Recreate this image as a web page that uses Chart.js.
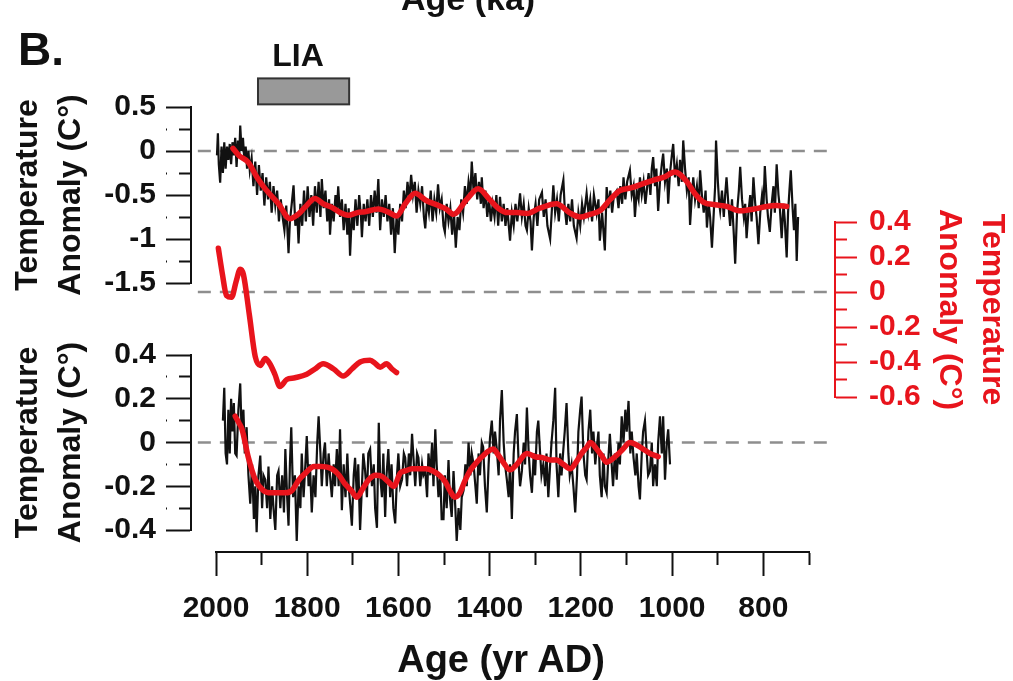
<!DOCTYPE html>
<html>
<head>
<meta charset="utf-8">
<title>Temperature anomaly</title>
<script src="https://cdn.jsdelivr.net/npm/chart.js@4.4.1/dist/chart.umd.min.js"></script>
<style>
  html, body { margin: 0; padding: 0; background: #fff; }
  #wrap { position: relative; width: 1013px; height: 681px; overflow: hidden;
          font-family: 'Liberation Sans', Arial, sans-serif; font-weight: bold; }
  #wrap canvas { position: absolute; left: 0; top: 0; }
  .lbl { position: absolute; white-space: nowrap; color: #111; line-height: 1; }
  #titleTop { left: 401px; top: -19px; font-size: 34px; }
  #panelB { left: 18px; top: 26px; font-size: 46px; }
  #liaText { left: 298px; top: 39px; font-size: 32px; transform: translateX(-50%); }
  #xTitle { left: 501px; top: 640px; font-size: 38px; transform: translateX(-50%); }
</style>
</head>
<body>
<div id="wrap">
  <canvas id="topChart" width="1013" height="681"></canvas>
  <canvas id="midChart" width="1013" height="681"></canvas>
  <canvas id="botChart" width="1013" height="681"></canvas>
  <canvas id="axisChart" width="1013" height="681"></canvas>
  <div class="lbl" id="titleTop">Age (ka)</div>
  <div class="lbl" id="panelB">B.</div>
  <div class="lbl" id="liaText">LIA</div>
  <div class="lbl" id="xTitle">Age (yr AD)</div>
</div>
<script>
// ---- data: [year AD, anomaly] ----

// upper panel, raw record (black)
const topRaw = [
  [1998,-0.05],[1996,0.20],[1994,-0.15],[1991,-0.36],[1988,0.05],[1985,-0.25],[1982,0.10],[1979,-0.20],
  [1976,0.05],[1973,-0.10],[1970,0.08],[1967,-0.15],[1964,0.10],[1961,-0.05],[1958,0.15],[1955,-0.18],
  [1952,0.12],[1949,-0.05],[1947,0.29],[1944,0.00],[1941,0.15],[1938,-0.10],[1935,0.05],[1932,-0.20],
  [1929,0.00],[1926,-0.22],[1922,-0.08],[1918,-0.40],[1914,-0.12],[1910,-0.50],[1906,-0.16],[1902,-0.45],
  [1898,-0.25],[1894,-0.62],[1890,-0.30],[1886,-0.55],[1882,-0.35],[1878,-0.70],[1874,-0.40],[1870,-0.62],
  [1866,-0.45],[1862,-0.80],[1858,-0.55],[1854,-0.75],[1850,-0.90],[1846,-0.62],[1841,-1.16],[1838,-0.80],
  [1834,-0.60],[1830,-0.39],[1826,-0.85],[1822,-0.70],[1819,-1.05],[1815,-0.60],[1811,-0.85],[1807,-0.45],
  [1803,-0.80],[1799,-0.40],[1795,-0.75],[1791,-0.50],[1787,-0.85],[1783,-0.40],[1779,-0.70],[1775,-0.35],
  [1771,-0.75],[1768,-0.32],[1764,-0.65],[1760,-0.45],[1756,-0.80],[1752,-0.55],[1750,-0.95],[1746,-0.60],
  [1742,-0.80],[1738,-0.50],[1735,-0.70],[1732,-0.40],[1728,-0.75],[1724,-0.55],[1720,-0.90],[1716,-0.60],
  [1712,-0.95],[1709,-0.65],[1706,-1.19],[1702,-0.70],[1698,-0.90],[1694,-0.55],[1690,-0.85],[1686,-0.50],
  [1682,-0.75],[1680,-0.98],[1676,-0.60],[1672,-0.80],[1668,-0.55],[1664,-0.85],[1660,-0.50],[1656,-0.75],
  [1652,-0.45],[1648,-0.70],[1644,-0.32],[1640,-0.90],[1636,-0.55],[1632,-0.75],[1628,-0.50],[1624,-0.80],
  [1620,-0.60],[1616,-0.95],[1612,-0.65],[1608,-1.16],[1604,-0.75],[1600,-0.95],[1596,-0.60],[1592,-0.80],
  [1588,-0.45],[1584,-0.65],[1580,-0.35],[1576,-0.55],[1572,-0.27],[1568,-0.50],[1564,-0.35],[1560,-0.70],
  [1556,-0.45],[1552,-0.60],[1548,-0.40],[1544,-0.75],[1541,-0.88],[1537,-0.55],[1533,-0.70],[1529,-0.45],
  [1525,-0.80],[1521,-0.55],[1517,-0.70],[1513,-0.38],[1509,-0.65],[1505,-0.55],[1501,-0.85],[1498,-0.92],
  [1494,-0.60],[1490,-0.80],[1486,-0.65],[1482,-0.95],[1478,-0.70],[1474,-1.10],[1470,-0.75],[1466,-0.90],
  [1462,-0.55],[1458,-0.70],[1454,-0.40],[1450,-0.60],[1446,-0.35],[1442,-0.50],[1439,-0.12],[1435,-0.45],
  [1431,-0.25],[1427,-0.55],[1423,-0.35],[1419,-0.60],[1417,-0.30],[1413,-0.65],[1409,-0.45],[1405,-0.75],
  [1401,-0.55],[1397,-0.80],[1393,-0.60],[1389,-0.75],[1385,-0.50],[1381,-0.85],[1377,-0.52],[1373,-0.80],
  [1369,-0.60],[1365,-0.85],[1361,-0.65],[1355,-1.02],[1351,-0.70],[1347,-0.85],[1343,-0.60],[1339,-0.80],
  [1333,-0.48],[1329,-0.75],[1325,-0.60],[1321,-0.85],[1318,-0.90],[1314,-0.65],[1310,-0.80],[1307,-1.13],
  [1303,-0.75],[1299,-0.60],[1295,-0.85],[1291,-0.55],[1285,-0.47],[1281,-0.75],[1277,-0.55],[1273,-0.85],
  [1267,-1.00],[1263,-0.65],[1260,-0.39],[1256,-0.70],[1252,-0.55],[1248,-0.80],[1244,-0.50],[1238,-0.33],
  [1235,-0.65],[1231,-0.84],[1227,-0.60],[1223,-0.80],[1219,-0.55],[1215,-0.85],[1209,-0.99],[1205,-0.70],
  [1201,-0.85],[1197,-0.60],[1193,-0.75],[1187,-0.48],[1183,-0.70],[1179,-0.55],[1175,-0.80],[1171,-0.50],
  [1165,-0.71],[1161,-0.55],[1158,-1.02],[1153,-0.70],[1147,-1.13],[1143,-0.41],[1139,-0.65],[1135,-0.45],
  [1131,-0.70],[1127,-0.50],[1121,-0.45],[1117,-0.65],[1113,-0.40],[1109,-0.60],[1106,-0.30],[1102,-0.55],
  [1098,-0.35],[1092,-0.22],[1088,-0.50],[1084,-0.40],[1081,-0.75],[1077,-0.45],[1073,-0.55],[1070,-0.30],
  [1066,-0.50],[1062,-0.35],[1058,-0.60],[1055,-0.45],[1051,-0.25],[1047,-0.50],[1044,-0.20],[1041,-0.07],
  [1037,-0.40],[1034,-0.20],[1030,-0.68],[1026,-0.35],[1022,-0.15],[1019,-0.03],[1015,-0.35],[1011,-0.20],
  [1008,-0.60],[1004,-0.25],[1000,-0.05],[997,0.08],[993,-0.30],[989,-0.15],[985,-0.40],[982,-0.10],
  [978,-0.35],[975,0.12],[971,-0.20],[967,-0.45],[963,-0.30],[960,-0.84],[956,-0.50],[953,-0.30],
  [949,-0.55],[945,-0.40],[941,-0.65],[938,-0.22],[934,-0.50],[930,-0.70],[926,-0.45],[923,-0.87],
  [919,-0.60],[916,-0.75],[912,-1.10],[908,-0.70],[905,-0.40],[903,0.12],[899,-0.35],[896,-0.60],
  [894,-0.68],[890,-0.45],[886,-0.75],[883,-0.50],[880,-0.30],[876,-0.60],[872,-0.85],[868,-0.55],
  [864,-0.95],[861,-1.28],[857,-0.70],[853,-0.45],[850,-0.18],[846,-0.55],[842,-0.75],[839,-0.60],
  [836,-0.99],[832,-0.70],[828,-0.50],[825,-0.80],[821,-0.30],[817,-0.60],[814,-0.75],[810,-1.06],
  [806,-0.70],[802,-0.50],[799,-0.65],[796,-0.17],[792,-0.55],[789,-0.75],[785,-0.92],[781,-0.60],
  [777,-0.40],[774,-0.70],[770,-0.15],[766,-0.50],[763,-0.65],[759,-0.99],[755,-0.60],[752,-0.80],
  [748,-1.21],[745,-0.70],[742,-0.45],[739,-0.22],[735,-0.65],[732,-0.90],[729,-0.60],[726,-1.25],[723,-0.75]
];

// upper panel, smoothed (red)
const topSmooth = [
  [1963,0.03],[1950,-0.05],[1929,-0.13],[1910,-0.30],[1892,-0.43],[1863,-0.60],[1838,-0.77],[1820,-0.72],
  [1805,-0.64],[1783,-0.54],[1765,-0.60],[1746,-0.64],[1728,-0.70],[1710,-0.73],[1690,-0.70],[1673,-0.69],
  [1644,-0.66],[1620,-0.70],[1604,-0.74],[1585,-0.60],[1563,-0.48],[1540,-0.56],[1512,-0.62],[1495,-0.66],
  [1479,-0.72],[1450,-0.55],[1425,-0.43],[1400,-0.55],[1381,-0.65],[1360,-0.70],[1340,-0.70],[1318,-0.71],
  [1290,-0.65],[1253,-0.60],[1225,-0.70],[1201,-0.75],[1180,-0.72],[1158,-0.68],[1135,-0.55],[1114,-0.45],
  [1090,-0.42],[1063,-0.37],[1040,-0.33],[1019,-0.30],[993,-0.24],[967,-0.35],[950,-0.48],[931,-0.58],
  [905,-0.61],[880,-0.63],[850,-0.68],[820,-0.66],[792,-0.63],[770,-0.62],[748,-0.63]
];

// middle record on the right axis (red)
const midSmooth = [
  [1995,0.25],[1986,0.10],[1977,-0.02],[1966,-0.03],[1956,0.06],[1947,0.13],[1940,0.10],[1927,-0.13],
  [1914,-0.37],[1903,-0.42],[1892,-0.38],[1882,-0.41],[1871,-0.47],[1860,-0.54],[1845,-0.50],[1827,-0.49],
  [1801,-0.47],[1783,-0.44],[1765,-0.41],[1742,-0.44],[1721,-0.48],[1702,-0.44],[1684,-0.40],[1662,-0.39],
  [1650,-0.41],[1640,-0.43],[1626,-0.41],[1614,-0.44],[1604,-0.46]
];

// lower panel, raw record (black)
const botRaw = [
  [1985,0.10],[1982,0.25],[1979,-0.05],[1976,-0.10],[1973,0.15],[1970,-0.05],[1967,0.20],[1964,0.05],
  [1961,0.18],[1958,-0.05],[1955,-0.06],[1951,0.15],[1947,0.27],[1944,0.05],[1940,0.15],[1937,-0.05],
  [1933,0.07],[1929,-0.15],[1925,-0.28],[1921,-0.10],[1917,-0.35],[1914,-0.20],[1911,-0.41],[1907,-0.15],
  [1903,-0.06],[1899,-0.30],[1896,-0.15],[1892,-0.17],[1888,-0.30],[1885,-0.11],[1881,-0.35],[1877,-0.20],
  [1874,-0.30],[1870,-0.40],[1866,-0.15],[1863,-0.13],[1859,-0.30],[1855,-0.15],[1851,-0.32],[1848,-0.03],
  [1844,-0.25],[1841,-0.38],[1838,-0.10],[1835,0.07],[1831,-0.25],[1827,-0.15],[1823,-0.45],[1819,-0.20],
  [1815,-0.30],[1812,-0.05],[1808,-0.25],[1804,-0.10],[1801,0.03],[1797,-0.20],[1794,-0.10],[1790,-0.32],
  [1786,-0.15],[1782,-0.25],[1778,0.00],[1775,0.12],[1771,-0.05],[1768,-0.20],[1764,-0.05],[1761,0.00],
  [1757,-0.20],[1753,-0.05],[1750,-0.15],[1746,-0.25],[1742,-0.10],[1739,-0.20],[1735,-0.03],[1731,-0.20],
  [1728,0.06],[1724,-0.31],[1720,-0.10],[1716,-0.25],[1712,-0.05],[1709,-0.20],[1705,-0.30],[1702,-0.38],
  [1698,-0.15],[1695,-0.07],[1691,-0.25],[1688,-0.10],[1684,-0.40],[1680,-0.20],[1677,-0.05],[1673,-0.13],
  [1669,-0.25],[1666,-0.05],[1662,-0.03],[1658,-0.20],[1654,-0.10],[1651,-0.30],[1647,-0.39],[1643,0.09],
  [1640,-0.15],[1636,-0.25],[1633,-0.05],[1629,-0.34],[1626,-0.15],[1622,-0.03],[1618,-0.25],[1615,-0.10],
  [1611,-0.30],[1607,-0.37],[1603,-0.15],[1600,-0.05],[1596,-0.20],[1592,-0.17],[1588,-0.05],[1585,-0.07],
  [1581,-0.20],[1577,-0.05],[1574,-0.15],[1570,0.04],[1566,-0.10],[1563,-0.20],[1559,-0.05],[1556,-0.07],
  [1552,-0.20],[1548,-0.10],[1545,-0.15],[1541,-0.13],[1537,-0.25],[1534,-0.05],[1530,-0.15],[1526,0.00],
  [1523,-0.20],[1519,0.06],[1516,-0.10],[1512,-0.25],[1508,-0.15],[1505,-0.35],[1501,-0.35],[1498,-0.15],
  [1494,-0.30],[1490,-0.08],[1487,-0.25],[1483,-0.34],[1479,-0.13],[1475,-0.30],[1472,-0.45],[1468,-0.30],
  [1464,-0.40],[1461,-0.25],[1457,-0.22],[1453,-0.10],[1450,-0.20],[1446,0.00],[1442,-0.15],[1439,-0.05],
  [1435,-0.10],[1431,-0.20],[1428,-0.28],[1424,-0.05],[1421,-0.15],[1417,0.00],[1414,-0.02],[1410,-0.20],
  [1406,-0.32],[1402,-0.10],[1399,0.02],[1395,0.10],[1391,-0.05],[1388,0.05],[1384,-0.03],[1380,-0.15],
  [1377,0.10],[1373,0.24],[1369,0.00],[1366,-0.10],[1362,-0.17],[1358,-0.25],[1355,-0.10],[1351,-0.35],
  [1347,-0.05],[1344,0.05],[1340,0.13],[1336,-0.10],[1333,-0.20],[1329,-0.13],[1325,0.00],[1322,-0.10],
  [1318,0.16],[1314,-0.05],[1311,-0.15],[1307,-0.23],[1303,-0.05],[1300,-0.15],[1296,0.05],[1293,0.10],
  [1289,-0.05],[1286,-0.15],[1282,-0.10],[1278,-0.20],[1275,-0.05],[1271,-0.25],[1267,-0.10],[1264,0.00],
  [1260,0.10],[1256,0.25],[1253,-0.10],[1249,-0.25],[1245,-0.05],[1242,-0.15],[1238,-0.03],[1235,0.05],
  [1231,0.18],[1227,-0.05],[1224,-0.15],[1220,-0.10],[1216,-0.20],[1212,-0.32],[1208,-0.15],[1205,0.05],
  [1201,0.15],[1198,0.21],[1194,-0.05],[1190,-0.15],[1187,-0.17],[1183,0.05],[1179,0.15],[1175,-0.05],
  [1172,0.05],[1168,-0.10],[1165,-0.03],[1161,0.05],[1158,-0.15],[1154,-0.25],[1150,-0.05],[1147,-0.20],
  [1143,-0.23],[1140,-0.10],[1136,0.04],[1132,-0.10],[1129,-0.20],[1125,-0.05],[1121,-0.17],[1117,0.00],
  [1114,-0.10],[1110,0.12],[1106,0.00],[1102,0.15],[1099,0.05],[1095,0.19],[1091,-0.05],[1088,0.05],
  [1084,-0.07],[1080,-0.15],[1077,-0.05],[1073,-0.20],[1070,-0.26],[1066,-0.05],[1063,0.05],[1059,0.10],
  [1055,-0.05],[1052,-0.15],[1048,-0.13],[1044,0.00],[1041,-0.20],[1037,-0.10],[1033,-0.20],[1030,0.00],
  [1026,0.12],[1022,-0.05],[1019,0.12],[1015,-0.17],[1011,0.00],[1008,0.06],[1004,-0.10]
];

// lower panel, smoothed (red)
const botSmooth = [
  [1958,0.12],[1950,0.09],[1943,0.06],[1929,-0.07],[1914,-0.17],[1896,-0.22],[1880,-0.23],[1863,-0.23],
  [1848,-0.23],[1834,-0.22],[1818,-0.17],[1804,-0.14],[1785,-0.11],[1768,-0.11],[1746,-0.12],[1730,-0.15],
  [1717,-0.19],[1703,-0.22],[1691,-0.25],[1678,-0.21],[1665,-0.17],[1650,-0.15],[1636,-0.155],[1622,-0.18],
  [1610,-0.20],[1596,-0.14],[1585,-0.13],[1570,-0.12],[1556,-0.12],[1540,-0.12],[1524,-0.13],[1510,-0.15],
  [1497,-0.18],[1487,-0.22],[1476,-0.25],[1465,-0.23],[1455,-0.18],[1443,-0.13],[1428,-0.09],[1414,-0.06],
  [1403,-0.04],[1392,-0.03],[1380,-0.06],[1370,-0.09],[1355,-0.125],[1340,-0.10],[1318,-0.05],[1300,-0.065],
  [1282,-0.07],[1267,-0.08],[1253,-0.08],[1238,-0.10],[1223,-0.12],[1210,-0.09],[1198,-0.05],[1186,-0.02],
  [1179,0.00],[1165,-0.03],[1154,-0.06],[1143,-0.09],[1122,-0.06],[1107,-0.03],[1092,0.00],[1078,-0.01],
  [1063,-0.03],[1048,-0.05],[1030,-0.065]
];

// Little Ice Age bar (years AD)
const liaYears = [1908, 1708];

// tick labels
const leftTopTicks = [0.5, 0, -0.5, -1, -1.5];
const leftBotTicks = [0.4, 0.2, 0, -0.2, -0.4];
const rightTicks = [0.4, 0.2, 0, -0.2, -0.4, -0.6];
const xTickLabels = [2000, 1800, 1600, 1400, 1200, 1000, 800];

// ---- layout (pixels) ----
const plotLeft = 191, plotRight = 835;
const panelYears = [642, 2055];       // years at plotRight / plotLeft
const axisYears = [700, 2000];
const W = 1013, H = 681;

Chart.defaults.font.family = "'Liberation Sans', Arial, sans-serif";
Chart.defaults.font.weight = 'bold';
Chart.defaults.color = '#111';

const RED = '#e8141c';
const BLACK = '#111';

function pts(list) {
  return list.map(p => ({ x: p[0], y: p[1] }));
}

function hasLabel(list, v) {
  return list.some(t => Math.abs(t - v) < 1e-6);
}

function fmt(v) {
  return String(Math.round(v * 100) / 100);
}

function zeroLine() {
  return {
    data: [{ x: 2040, y: 0 }, { x: 660, y: 0 }],
    borderColor: '#8e8e8e', borderWidth: 2.5, borderDash: [13, 9],
    pointRadius: 0, clip: false
  };
}

function blackLine(list) {
  return { data: pts(list), borderColor: BLACK, borderWidth: 2.2, pointRadius: 0, tension: 0, clip: false };
}

function redLine(list) {
  return { data: pts(list), borderColor: RED, borderWidth: 5.5, pointRadius: 0,
           cubicInterpolationMode: 'monotone',
           borderJoinStyle: 'round', borderCapStyle: 'round', clip: false };
}

function panelX() {
  return { type: 'linear', min: panelYears[0], max: panelYears[1], reverse: true, display: false };
}

// left axis with long ticks on labelled values and short ones between
function leftAxis(min, max, step, labels) {
  return {
    position: 'left', min: min, max: max,
    afterFit: s => { s.width = plotLeft; },
    border: { display: true, color: BLACK, width: 2 },
    grid: {
      drawOnChartArea: false, tickLength: 25, tickWidth: 2, tickColor: BLACK,
      tickBorderDash: ctx => hasLabel(labels, ctx.tick.value) ? [] : [13, 12],
      tickBorderDashOffset: ctx => hasLabel(labels, ctx.tick.value) ? 0 : 12
    },
    ticks: {
      stepSize: step, padding: 10, autoSkip: false,
      font: { size: 30, weight: 'bold' },
      callback: v => hasLabel(labels, v) ? fmt(v) : ''
    },
    title: {
      display: true, text: ['Temperature', 'Anomaly (C°)'], color: BLACK,
      font: { size: 32, weight: 'bold', lineHeight: 1.33 }, padding: { top: 7, bottom: 0 }
    }
  };
}

const baseOptions = {
  responsive: false, animation: false, events: [],
  plugins: { legend: { display: false }, tooltip: { enabled: false } }
};

// LIA bar above the upper panel
const liaPlugin = {
  id: 'liaBar',
  afterDraw(chart) {
    const ctx = chart.ctx;
    const xs = chart.scales.x, ys = chart.scales.y;
    let x1 = xs.getPixelForValue(liaYears[0]);
    let x2 = xs.getPixelForValue(liaYears[1]);
    let y1 = ys.getPixelForValue(0.825);
    let y2 = ys.getPixelForValue(0.53);
    ctx.save();
    ctx.fillStyle = '#999';
    ctx.fillRect(x1, y1, x2 - x1, y2 - y1);
    ctx.strokeStyle = '#333';
    ctx.lineWidth = 2;
    ctx.strokeRect(x1, y1, x2 - x1, y2 - y1);
    ctx.restore();
  }
};

// upper panel
new Chart(document.getElementById('topChart'), {
  type: 'line',
  data: { datasets: [redLine(topSmooth), blackLine(topRaw), zeroLine()] },
  options: Object.assign({}, baseOptions, {
    layout: { padding: { left: 0, right: W - plotRight, top: 107, bottom: H - 283 } },
    scales: { x: panelX(), y: leftAxis(-1.5, 0.5, 0.25, leftTopTicks) }
  }),
  plugins: [liaPlugin]
});

// middle record, red axis on the right
new Chart(document.getElementById('midChart'), {
  type: 'line',
  data: { datasets: [redLine(midSmooth), zeroLine()] },
  options: Object.assign({}, baseOptions, {
    layout: { padding: { left: plotLeft, right: 0, top: 222, bottom: H - 397 } },
    scales: {
      x: panelX(),
      y: {
        position: 'right', min: -0.6, max: 0.4,
        afterFit: s => { s.width = W - plotRight; },
        border: { display: true, color: RED, width: 2 },
        grid: {
          drawOnChartArea: false, tickLength: 22, tickWidth: 2, tickColor: RED,
          tickBorderDash: ctx => hasLabel(rightTicks, ctx.tick.value) ? [] : [11, 100]
        },
        ticks: {
          stepSize: 0.1, padding: 12, autoSkip: false, color: RED,
          font: { size: 30, weight: 'bold' },
          callback: v => hasLabel(rightTicks, v) ? fmt(v) : ''
        },
        title: {
          display: true, text: ['Temperature', 'Anomaly (C°)'], color: RED,
          font: { size: 32, weight: 'bold', lineHeight: 1.33 }, padding: { top: 0, bottom: 0 }
        }
      }
    }
  })
});

// lower panel
new Chart(document.getElementById('botChart'), {
  type: 'line',
  data: { datasets: [redLine(botSmooth), blackLine(botRaw), zeroLine()] },
  options: Object.assign({}, baseOptions, {
    layout: { padding: { left: 0, right: W - plotRight, top: 355, bottom: H - 530 } },
    scales: { x: panelX(), y: leftAxis(-0.4, 0.4, 0.1, leftBotTicks) }
  })
});

// shared year axis
new Chart(document.getElementById('axisChart'), {
  type: 'line',
  data: { datasets: [] },
  options: Object.assign({}, baseOptions, {
    layout: { padding: { left: 216, right: W - 809, top: 540, bottom: 0 } },
    scales: {
      x: {
        type: 'linear', position: 'bottom', min: axisYears[0], max: axisYears[1], reverse: true,
        afterFit: s => { s.height = H - 552; },
        border: { display: true, color: BLACK, width: 2 },
        grid: {
          drawOnChartArea: false, tickLength: 24, tickWidth: 2, tickColor: BLACK,
          tickBorderDash: ctx => hasLabel(xTickLabels, ctx.tick.value) ? [] : [12, 100]
        },
        ticks: {
          stepSize: 100, padding: 15, autoSkip: false, maxRotation: 0,
          font: { size: 30, weight: 'bold' },
          callback: v => hasLabel(xTickLabels, v) ? String(v) : ''
        }
      },
      y: { display: false, min: 0, max: 1 }
    }
  })
});
</script>
</body>
</html>
